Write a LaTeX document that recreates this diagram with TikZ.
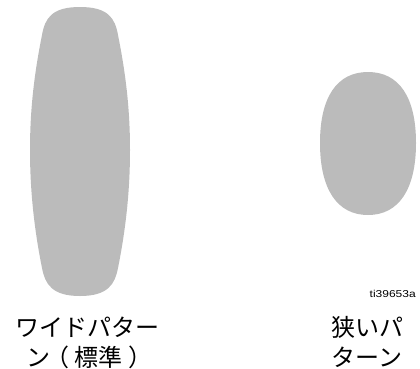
\documentclass[tikz,border=0pt]{standalone}
\usepackage{fontspec}
\newfontfamily\jpfont{Noto Sans CJK JP}
\newfontfamily\jphalt[RawFeature=+halt]{Noto Sans CJK JP}
\newfontfamily\labfont{Liberation Sans}
\newcommand\cpar[1]{\makebox[1em][c]{\jphalt #1}}
\definecolor{patgray}{RGB}{187,187,187}
\begin{document}
\begin{tikzpicture}[x=1pt,y=-1pt,
  pattern shape/.style={fill=patgray,draw=none},
  jplabel/.style={font=\jpfont\fontsize{24}{30}\selectfont,align=center,inner sep=0pt,anchor=base},
  refid/.style={font=\labfont\fontsize{10}{12}\selectfont,xscale=1.2,inner sep=0pt,anchor=base east}]
\useasboundingbox (0,0) rectangle (420,368);
% wide pattern
\path[pattern shape] (80,7)
  .. controls (108,7) and (115,18) .. (118,35)
  .. controls (126,75) and (130,110) .. (130,150)
  .. controls (130,190) and (126,228) .. (118,268)
  .. controls (115,284) and (108,296) .. (80,296)
  .. controls (52,296) and (45,284) .. (42,268)
  .. controls (34,228) and (30,190) .. (30,150)
  .. controls (30,110) and (34,75) .. (42,35)
  .. controls (45,18) and (52,7) .. (80,7) -- cycle;
% narrow pattern
\path[pattern shape] (368,72)
  .. controls (399,72) and (416,97) .. (416,143)
  .. controls (416,189) and (399,215) .. (368,215)
  .. controls (337,215) and (320,189) .. (320,143)
  .. controls (320,97) and (337,72) .. (368,72) -- cycle;
\node[refid] (ref) at (416,297) {ti39653a};
\node[jplabel] (wide) at (87,366) {ワイドパター\\ン\cpar{（}標準\cpar{）}};
\node[jplabel] (narrow) at (367,366) {狭いパ\\ターン};
\end{tikzpicture}
\end{document}
